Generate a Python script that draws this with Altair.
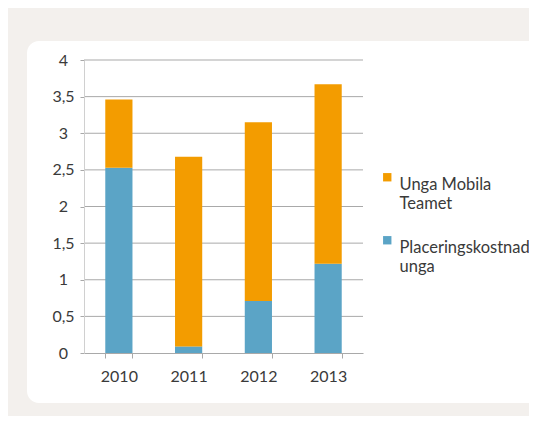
import altair as alt
import pandas as pd

years = ["2010", "2011", "2012", "2013"]
series_names = ["Unga Mobila Teamet", "Placeringskostnad unga"]
legend_lines = [["Unga Mobila", "Teamet"], ["Placeringskostnad", "unga"]]
unga_mobila = [0.93, 2.59, 2.44, 2.45]
placering = [2.53, 0.09, 0.71, 1.22]
colors = ["#F39C00", "#5BA4C6"]
y_ticks = [0, 0.5, 1, 1.5, 2, 2.5, 3, 3.5, 4]

rows = []
for i, yr in enumerate(years):
    rows.append({"year": yr, "series": series_names[1], "value": placering[i], "order": 0})
    rows.append({"year": yr, "series": series_names[0], "value": unga_mobila[i], "order": 1})
df = pd.DataFrame(rows)
grid_df = pd.DataFrame({"value": y_ticks[1:]})

label_expr = " : ".join(
    [f"datum.label == '{n}' ? {l!r}" for n, l in zip(series_names, legend_lines)]
) + " : datum.label"

FONT = "Lato"
TXT = "#3a3a3a"
GRID = "#a9a9a9"

y_scale = alt.Scale(domain=[0, 4], nice=False)
y_axis = alt.Axis(
    title=None, values=y_ticks,
    labelExpr="replace(toString(datum.value), '.', ',')",
    labelFont=FONT, labelFontSize=16, labelColor=TXT,
    labelAlign="center", labelPadding=17, tickSize=4,
    tickColor=GRID, grid=False, domainColor="#d0d0d0", zindex=1,
)

panel = alt.Chart(pd.DataFrame({"p": [0]})).mark_rect(
    color="white", cornerRadius=12
).encode(
    x=alt.value(-57), x2=alt.value(470), y=alt.value(-19), y2=alt.value(343)
)

grid = alt.Chart(grid_df).mark_rule(color=GRID, strokeWidth=1).encode(
    y=alt.Y("value:Q", scale=y_scale, axis=y_axis)
)

bars = alt.Chart(df).mark_bar().encode(
    x=alt.X(
        "year:N",
        sort=years,
        scale=alt.Scale(paddingInner=0.61, paddingOuter=0.305),
        axis=alt.Axis(
            title=None, labelAngle=0, labelFont=FONT, labelFontSize=16,
            labelColor=TXT, labelPadding=10, tickBand="extent", tickSize=5,
            ticks=True, tickColor=GRID, domainColor=GRID, grid=False, zindex=1,
        ),
    ),
    y=alt.Y("value:Q", stack="zero", scale=y_scale, axis=y_axis),
    color=alt.Color(
        "series:N",
        scale=alt.Scale(domain=series_names, range=colors),
        legend=alt.Legend(
            title=None, orient="none", legendX=295, legendY=109,
            labelExpr=label_expr, symbolType="square", symbolSize=70,
            symbolStrokeWidth=0, labelFont=FONT, labelFontSize=16.5,
            labelColor=TXT, labelLimit=300, labelOffset=4, rowPadding=19,
            labelBaseline="top", padding=0,
        ),
    ),
    order=alt.Order("order:Q"),
)

chart = alt.layer(panel, grid, bars).properties(
    width=279, height=293,
    autosize=alt.AutoSizeParams(type="none"),
    padding={"left": 76, "top": 52, "right": 166, "bottom": 63},
    background="#F3F0ED",
).configure_view(stroke=None)

chart.save("out.html", embed_options={"renderer": "svg", "actions": False})
